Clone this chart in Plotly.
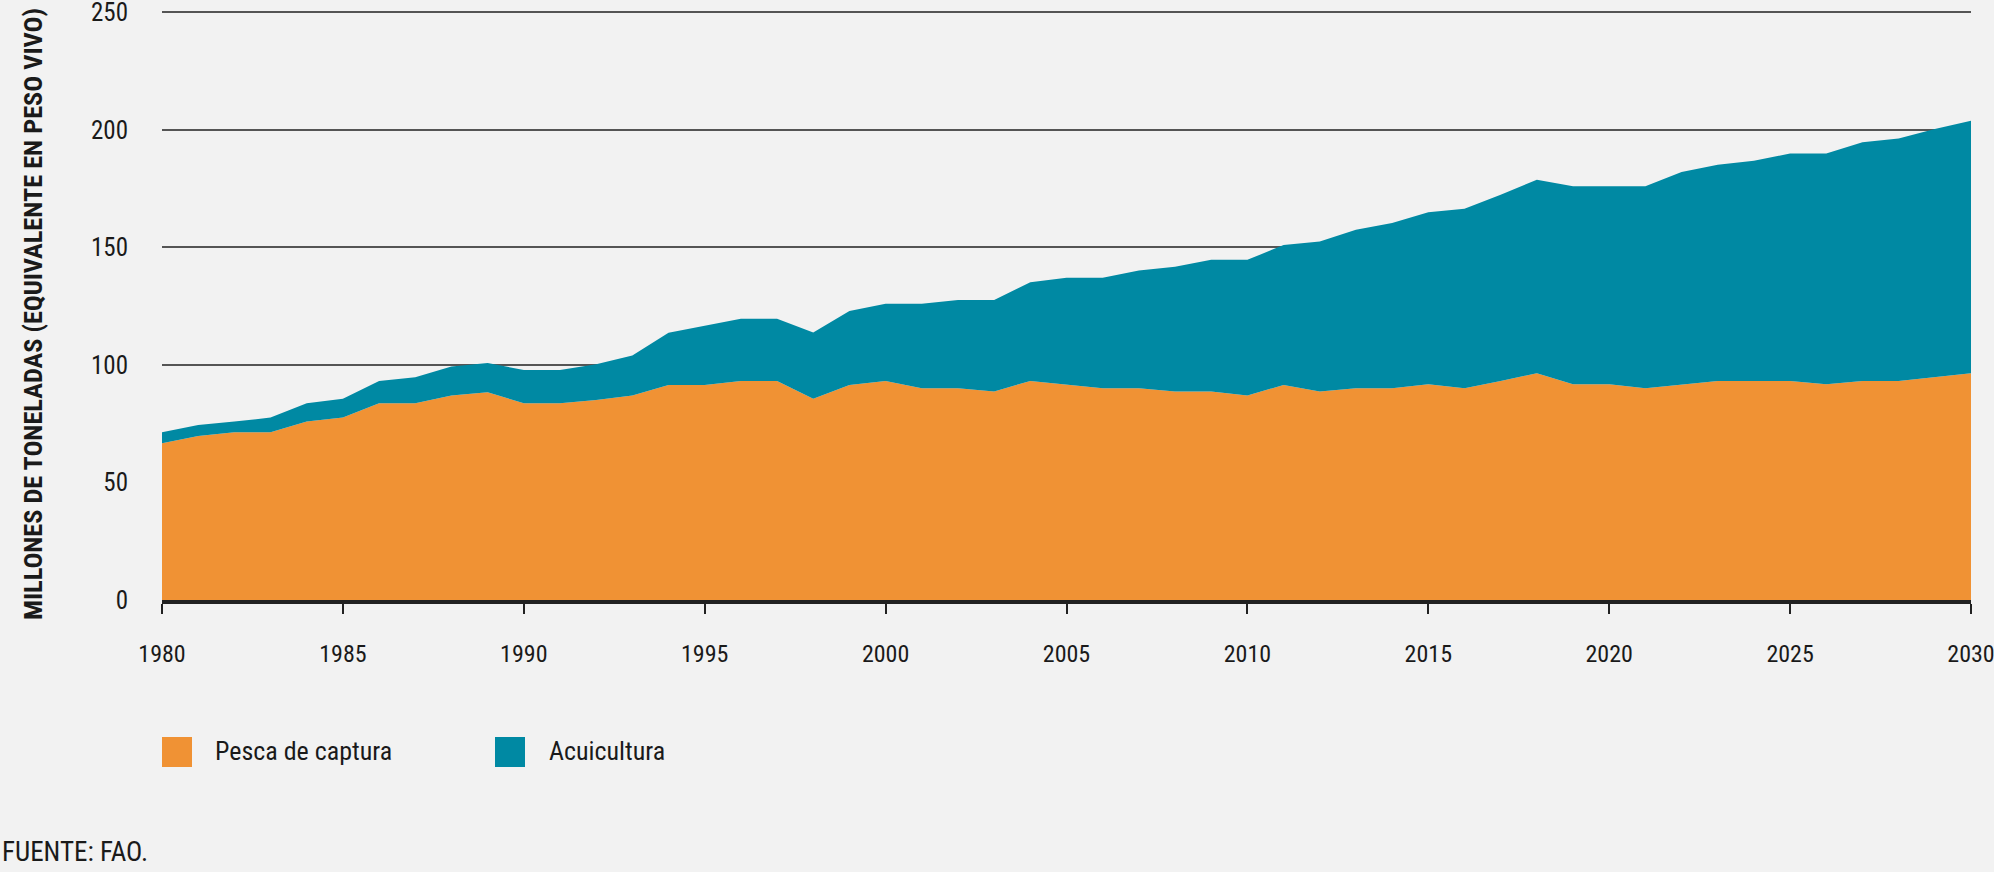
import plotly.graph_objects as go

years = list(range(1980, 2031))

capture = [66.7, 69.8, 71.4, 71.4, 75.9, 77.6, 83.7, 83.7, 87.0, 88.4,
           83.7, 83.7, 85.1, 87.0, 91.5, 91.5, 93.2, 93.2, 85.6, 91.5,
           93.2, 90.1, 90.1, 88.7, 93.2, 91.5, 90.1, 90.1, 88.7, 88.7,
           87.0, 91.5, 88.7, 90.1, 90.1, 91.8, 90.1, 93.2, 96.5, 91.8,
           91.8, 90.1, 91.8, 93.2, 93.2, 93.2, 91.8, 93.2, 93.2, 94.7,
           96.5]

total = [71.4, 74.5, 75.9, 77.6, 83.7, 85.6, 93.2, 94.8, 99.3, 100.8,
         97.9, 97.9, 100.3, 104.0, 113.7, 116.6, 119.6, 119.6, 113.8, 122.9,
         126.0, 126.0, 127.6, 127.6, 135.2, 137.1, 137.1, 140.2, 141.8, 144.7,
         144.7, 151.0, 152.5, 157.5, 160.4, 165.0, 166.5, 172.4, 178.8, 176.0,
         176.0, 176.0, 182.1, 185.2, 186.9, 189.9, 189.9, 194.7, 196.3, 200.4,
         203.9]

aquaculture = [round(t - c, 1) for t, c in zip(total, capture)]

series_names = ["Pesca de captura", "Acuicultura"]
series_colors = ["#F09234", "#0089A3"]

x_ticks = [1980, 1985, 1990, 1995, 2000, 2005, 2010, 2015, 2020, 2025, 2030]
y_ticks = [0, 50, 100, 150, 200, 250]

y_title = "MILLONES DE TONELADAS (EQUIVALENTE EN PESO VIVO)"
source_text = "FUENTE: FAO."

FONT = "Liberation Sans Narrow, Roboto Condensed, DejaVu Sans Condensed, Arial Narrow, sans-serif"
BG = "#F2F2F2"

W, H = 1994, 872
ML, MR, MT, MB = 162, 23, 10, 272
PW, PH = W - ML - MR, H - MT - MB


def px_x(px):
    return (px - ML) / PW


def px_y(py):
    return (H - MB - py) / PH


fig = go.Figure()
for name, vals, col in zip(series_names, [capture, aquaculture], series_colors):
    fig.add_trace(go.Scatter(
        x=years, y=vals, name=name, mode="lines",
        stackgroup="one", line=dict(width=0, color=col),
        fillcolor=col, showlegend=False,
        hovertemplate="%{x}: %{y}<extra>" + name + "</extra>",
    ))

shapes = []
annotations = []

# legend swatches and labels
legend_items = [(162, 213), (495, 547)]
for (sx, tx), name, col in zip(legend_items, series_names, series_colors):
    shapes.append(dict(type="rect", xref="paper", yref="paper",
                       x0=px_x(sx), x1=px_x(sx + 30), y0=px_y(767), y1=px_y(737),
                       fillcolor=col, line=dict(width=0)))
    annotations.append(dict(text=name, xref="paper", yref="paper",
                            x=px_x(tx), y=px_y(751), xanchor="left", yanchor="middle",
                            showarrow=False, font=dict(family=FONT, size=26, color="#1a1a1a")))

# y-axis title
annotations.append(dict(text=y_title, xref="paper", yref="paper",
                        x=px_x(33), y=px_y(314), xanchor="center", yanchor="middle",
                        textangle=-90, showarrow=False,
                        font=dict(family=FONT, size=26.3, color="#1a1a1a", weight="bold")))

# source
annotations.append(dict(text=source_text, xref="paper", yref="paper",
                        x=px_x(0), y=px_y(834), xanchor="left", yanchor="top",
                        showarrow=False, font=dict(family=FONT, size=27, color="#1a1a1a")))

fig.update_layout(
    width=W, height=H,
    margin=dict(l=ML, r=MR, t=MT, b=MB, pad=0, autoexpand=False),
    paper_bgcolor=BG, plot_bgcolor=BG,
    showlegend=False,
    shapes=shapes, annotations=annotations,
    font=dict(family=FONT, color="#1a1a1a"),
)

fig.update_xaxes(
    range=[1980, 2030], tickvals=x_ticks, ticktext=[str(v) for v in x_ticks],
    showgrid=False, zeroline=False, automargin=False,
    showline=True, linecolor="#222222", linewidth=4,
    ticks="outside", ticklen=10, tickwidth=2, tickcolor="#222222",
    tickfont=dict(family=FONT, size=24, color="#1a1a1a"),
    ticklabelstandoff=19, ticklabeloverflow="allow",
)
fig.update_yaxes(
    range=[0, 251], tickvals=y_ticks, ticktext=[str(v) for v in y_ticks],
    showgrid=True, gridcolor="#555555", gridwidth=1.5,
    zeroline=False, showline=False, ticks="", automargin=False,
    tickfont=dict(family=FONT, size=25, color="#1a1a1a"),
    ticklabelstandoff=33, ticklabeloverflow="allow",
)

fig.write_html(
    "out.html",
    config={"displayModeBar": False},
    post_script="document.body.style.margin='0';document.body.style.background='#F2F2F2';",
)
